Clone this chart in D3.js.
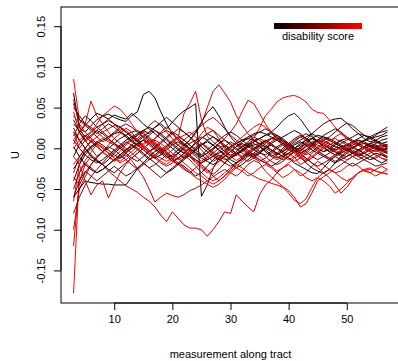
<!DOCTYPE html>
<html>
<head>
<meta charset="utf-8">
<script src="https://cdn.jsdelivr.net/npm/d3@7"></script>
<style>
  body { margin: 0; background: #fff; }
  text { font-family: "Liberation Sans", Arial, sans-serif; }
</style>
</head>
<body>
<div id="chart"></div>
<script>
// measurement index along the tract (x values)
const positions = [3, 4, 5, 6, 7, 8, 9, 10, 11, 12, 13, 14, 15, 16, 17, 18, 19, 20, 21, 22, 23, 24, 25, 26, 27, 28, 29, 30,
  31, 32, 33, 34, 35, 36, 37, 38, 39, 40, 41, 42, 43, 44, 45, 46, 47, 48, 49, 50, 51, 52, 53, 54, 55, 56, 57];

const xTicks = [10, 20, 30, 40, 50];
const yTicks = [-0.15, -0.10, -0.05, 0.00, 0.05, 0.10, 0.15];

// one curve per subject, U along the tract
const s01 = [0.068, 0.025, 0.020, 0.028, 0.035, 0.040, 0.042, 0.038, 0.035, 0.033, 0.040,
  0.045, 0.066, 0.070, 0.062, 0.045, 0.030, 0.018, 0.010, 0.005, 0.000, -0.005,
  -0.010, -0.006, 0.000, 0.004, -0.004, -0.010, -0.008, -0.003, 0.001, 0.004, 0.006,
  0.009, 0.012, 0.013, 0.010, 0.006, 0.001, -0.003, 0.002, 0.006, 0.010, 0.008,
  0.005, 0.002, 0.000, -0.002, 0.001, 0.005, 0.009, 0.012, 0.014, 0.016, 0.020];
const s02 = [-0.178, -0.030, -0.015, -0.005, 0.005, 0.002, -0.006, -0.012, -0.016, -0.010, -0.004,
  0.002, 0.006, 0.010, 0.004, -0.002, -0.010, -0.016, -0.020, -0.012, -0.002, 0.008,
  0.018, 0.026, 0.022, 0.012, 0.000, -0.010, -0.015, -0.010, -0.004, 0.000, 0.003,
  -0.004, -0.010, -0.014, -0.010, -0.006, -0.011, -0.020, -0.016, -0.006, 0.000, 0.004,
  0.000, -0.005, -0.010, -0.014, -0.010, -0.006, 0.000, 0.004, 0.002, -0.002, -0.006];
const s03 = [0.085, 0.035, 0.030, 0.058, 0.040, 0.030, 0.020, 0.012, 0.018, 0.025, 0.020,
  0.010, 0.002, -0.006, -0.012, -0.008, 0.000, 0.006, 0.012, 0.016, 0.020, 0.014,
  0.006, 0.000, -0.008, -0.014, -0.018, -0.012, -0.004, 0.002, 0.006, 0.010, 0.012,
  0.008, 0.004, 0.000, -0.004, -0.008, -0.004, 0.002, 0.008, 0.012, 0.010, 0.006,
  0.002, -0.002, -0.006, -0.002, 0.004, 0.008, 0.006, 0.002, -0.002, 0.000, 0.004];
const s04 = [-0.120, -0.040, -0.020, -0.010, -0.015, -0.020, -0.028, -0.034, -0.040, -0.046, -0.050,
  -0.054, -0.060, -0.065, -0.072, -0.082, -0.090, -0.078, -0.086, -0.094, -0.098, -0.098,
  -0.100, -0.108, -0.100, -0.090, -0.078, -0.080, -0.057, -0.065, -0.072, -0.078, -0.057,
  -0.045, -0.039, -0.030, -0.024, -0.020, -0.026, -0.034, -0.030, -0.022, -0.016, -0.020,
  -0.026, -0.030, -0.028, -0.022, -0.018, -0.022, -0.028, -0.030, -0.026, -0.022, -0.026];
const s05 = [-0.100, -0.050, -0.035, -0.020, -0.010, -0.005, -0.010, -0.015, -0.012, -0.008, -0.015,
  -0.025, -0.035, -0.050, -0.066, -0.060, -0.055, -0.058, -0.060, -0.057, -0.052, -0.049,
  -0.045, -0.040, -0.035, -0.030, -0.026, -0.030, -0.034, -0.028, -0.020, -0.015, -0.018,
  -0.028, -0.035, -0.041, -0.047, -0.052, -0.060, -0.072, -0.068, -0.055, -0.040, -0.035,
  -0.030, -0.025, -0.020, -0.015, -0.010, -0.008, -0.010, -0.014, -0.012, -0.008, -0.010];
const s06 = [-0.065, -0.020, 0.000, 0.010, 0.004, -0.004, -0.010, -0.016, -0.010, -0.004, 0.000,
  0.004, 0.000, -0.006, -0.012, -0.018, -0.022, -0.018, -0.012, -0.008, -0.014, -0.022,
  -0.030, -0.036, -0.040, -0.036, -0.030, -0.024, -0.020, -0.024, -0.030, -0.034, -0.038,
  -0.040, -0.043, -0.045, -0.048, -0.055, -0.064, -0.068, -0.062, -0.048, -0.036, -0.030,
  -0.026, -0.030, -0.036, -0.040, -0.036, -0.030, -0.026, -0.024, -0.028, -0.030, -0.032];
const s07 = [0.040, 0.030, 0.020, 0.012, 0.006, 0.000, -0.006, -0.010, -0.004, 0.004, 0.010,
  0.016, 0.020, 0.014, 0.008, 0.002, -0.004, -0.010, -0.014, -0.010, -0.004, 0.002,
  0.006, 0.002, -0.004, -0.010, -0.014, -0.012, -0.008, -0.002, 0.004, 0.012, 0.025,
  0.040, 0.048, 0.057, 0.062, 0.064, 0.065, 0.062, 0.057, 0.048, 0.044, 0.043,
  0.035, 0.026, 0.018, 0.012, 0.008, 0.004, 0.000, -0.004, -0.002, 0.002, 0.004];
const s08 = [-0.020, -0.010, -0.004, 0.002, 0.008, 0.012, 0.008, 0.004, 0.000, -0.004, 0.000,
  0.006, 0.010, 0.004, -0.002, -0.006, 0.002, 0.010, 0.014, 0.043, 0.055, 0.070,
  0.035, 0.015, 0.008, 0.002, -0.004, -0.008, -0.006, -0.010, -0.006, 0.000, 0.004,
  0.008, 0.012, 0.010, 0.004, -0.002, -0.006, -0.002, 0.004, 0.008, 0.010, 0.006,
  0.002, -0.002, 0.000, 0.004, 0.008, 0.010, 0.006, 0.002, 0.000, 0.002, 0.004];
const s09 = [0.010, 0.020, 0.030, 0.026, 0.020, 0.014, 0.010, 0.006, 0.002, -0.002, 0.002,
  0.006, 0.002, -0.004, -0.010, -0.016, -0.020, -0.014, -0.006, 0.002, 0.010, 0.018,
  0.030, 0.050, 0.070, 0.078, 0.068, 0.057, 0.040, 0.028, 0.018, 0.010, 0.004,
  0.002, -0.002, -0.006, -0.010, -0.014, -0.010, -0.004, 0.002, 0.006, 0.004, 0.000,
  -0.004, -0.008, -0.004, 0.000, 0.004, 0.006, 0.002, -0.002, -0.004, -0.002, 0.000];
const s10 = [-0.030, -0.010, 0.000, 0.008, 0.014, 0.020, 0.024, 0.028, 0.026, 0.022, 0.016,
  0.010, 0.004, -0.002, -0.008, -0.012, -0.016, -0.012, -0.006, 0.000, -0.004, -0.010,
  -0.016, -0.010, -0.002, 0.006, 0.012, 0.020, 0.030, 0.045, 0.059, 0.055, 0.043,
  0.030, 0.020, 0.012, 0.006, 0.000, -0.004, -0.008, -0.004, 0.002, 0.008, 0.012,
  0.010, 0.006, 0.002, -0.002, -0.006, -0.004, 0.000, 0.004, 0.002, -0.002, -0.004];
const s11 = [0.020, 0.010, 0.000, -0.010, -0.016, -0.020, -0.014, -0.006, 0.000, 0.006, 0.012,
  0.016, 0.022, 0.018, 0.026, 0.030, 0.024, 0.032, 0.040, 0.046, 0.050, 0.055,
  -0.059, -0.045, -0.025, -0.012, -0.004, 0.002, 0.006, 0.010, 0.012, 0.010, 0.006,
  0.002, -0.002, -0.006, -0.010, -0.006, 0.000, 0.006, 0.010, 0.012, 0.008, 0.004,
  0.000, -0.004, -0.008, -0.010, -0.006, -0.002, 0.002, 0.006, 0.008, 0.006, 0.004];
const s12 = [-0.060, -0.050, -0.040, -0.042, -0.043, -0.044, -0.044, -0.045, -0.045, -0.045, -0.035,
  -0.025, -0.018, -0.010, -0.004, 0.000, -0.006, -0.012, -0.018, -0.022, -0.028, -0.034,
  -0.030, -0.022, -0.014, -0.008, -0.012, -0.018, -0.024, -0.020, -0.014, -0.008, -0.004,
  0.000, 0.004, 0.000, -0.006, -0.012, -0.018, -0.022, -0.026, -0.030, -0.031, -0.024,
  -0.016, -0.010, -0.006, -0.002, -0.006, -0.010, -0.014, -0.010, -0.006, -0.008, -0.012];
const s13 = [0.030, 0.022, 0.015, 0.008, 0.002, -0.004, 0.000, 0.006, 0.012, 0.016, 0.020,
  0.022, 0.018, 0.012, 0.006, 0.000, -0.006, -0.010, -0.006, 0.000, 0.006, 0.010,
  0.014, 0.010, 0.004, -0.002, -0.008, -0.012, -0.008, -0.002, 0.004, 0.008, 0.012,
  0.016, 0.020, 0.026, 0.034, 0.040, 0.043, 0.036, 0.026, 0.016, 0.008, 0.002,
  -0.004, -0.008, -0.004, 0.002, 0.006, 0.010, 0.008, 0.004, 0.000, -0.002, 0.000];
const s14 = [0.010, 0.000, -0.008, -0.014, -0.018, -0.014, -0.008, -0.002, 0.004, 0.010, 0.014,
  0.018, 0.022, 0.026, 0.022, 0.016, 0.010, 0.004, -0.002, -0.006, -0.010, -0.014,
  -0.018, -0.014, -0.010, -0.006, -0.002, 0.002, 0.006, 0.010, 0.014, 0.018, 0.020,
  0.018, 0.014, 0.010, 0.006, 0.002, 0.000, 0.004, 0.010, 0.018, 0.024, 0.030,
  0.034, 0.036, 0.037, 0.031, 0.024, 0.018, 0.012, 0.008, 0.010, 0.014, 0.016];
const s15 = [-0.040, -0.020, -0.008, 0.000, 0.006, 0.010, 0.014, 0.018, 0.020, 0.016, 0.010,
  0.004, -0.002, -0.008, -0.012, -0.008, -0.002, 0.004, 0.008, 0.004, -0.002, -0.008,
  -0.012, -0.016, -0.020, -0.016, -0.010, -0.004, 0.002, 0.006, 0.002, -0.002, -0.006,
  -0.008, -0.004, 0.002, 0.006, 0.004, -0.002, -0.010, -0.018, -0.024, -0.028, -0.031,
  -0.026, -0.018, -0.010, -0.004, 0.000, 0.004, 0.006, 0.004, 0.000, -0.004, -0.006];
const s16 = [0.055, 0.035, 0.028, 0.036, 0.043, 0.040, 0.036, 0.041, 0.038, 0.036, 0.043,
  0.037, 0.030, 0.024, 0.018, 0.012, 0.006, 0.000, -0.006, -0.012, -0.008, -0.002,
  0.004, 0.010, 0.014, 0.010, 0.004, -0.002, -0.006, -0.002, 0.004, 0.008, 0.012,
  0.016, 0.018, 0.014, 0.008, 0.002, -0.004, 0.000, 0.006, 0.012, 0.016, 0.014,
  0.010, 0.006, 0.002, 0.004, 0.008, 0.012, 0.016, 0.014, 0.010, 0.006, 0.008];
const s17 = [0.005, 0.020, 0.028, 0.022, 0.014, 0.008, 0.012, 0.018, 0.024, 0.020, 0.014,
  0.008, 0.002, -0.004, 0.000, 0.006, 0.012, 0.018, 0.024, 0.020, 0.014, 0.006,
  -0.002, -0.010, -0.016, -0.012, -0.006, 0.000, 0.006, 0.002, -0.004, -0.008, -0.004,
  0.002, 0.008, 0.012, 0.008, 0.004, 0.000, -0.004, -0.008, -0.004, 0.002, 0.006,
  0.010, 0.012, 0.008, 0.004, 0.000, -0.002, 0.002, 0.006, 0.008, 0.006, 0.002];
const s18 = [-0.050, -0.030, -0.018, -0.024, -0.030, -0.026, -0.020, -0.014, -0.008, -0.002, 0.004,
  0.010, 0.016, 0.010, 0.004, -0.002, -0.008, -0.014, -0.020, -0.026, -0.030, -0.024,
  -0.018, -0.012, -0.006, 0.000, 0.004, 0.000, -0.006, -0.012, -0.016, -0.012, -0.006,
  0.000, -0.004, -0.010, -0.014, -0.010, -0.004, 0.002, 0.006, 0.002, -0.004, -0.008,
  -0.012, -0.016, -0.012, -0.006, -0.002, -0.006, -0.010, -0.014, -0.010, -0.006, -0.010];
const s19 = [0.025, 0.010, 0.000, -0.008, -0.014, -0.020, -0.026, -0.030, -0.024, -0.018, -0.012,
  -0.006, 0.000, 0.006, 0.012, 0.018, 0.022, 0.018, 0.012, 0.006, 0.000, -0.006,
  -0.010, -0.006, 0.000, 0.006, 0.010, 0.006, 0.000, -0.006, -0.010, -0.006, 0.000,
  0.006, 0.012, 0.016, 0.012, 0.006, 0.000, -0.006, -0.002, 0.004, 0.010, 0.014,
  0.012, 0.008, 0.004, 0.000, -0.004, -0.008, -0.006, -0.002, 0.002, 0.004, 0.002];
const s20 = [-0.010, -0.020, -0.040, -0.057, -0.045, -0.040, -0.061, -0.045, -0.030, -0.020, -0.012,
  -0.006, 0.000, 0.006, 0.010, 0.006, 0.000, -0.006, -0.012, -0.018, -0.024, -0.030,
  -0.034, -0.040, -0.044, -0.040, -0.034, -0.028, -0.022, -0.016, -0.010, -0.006, -0.010,
  -0.016, -0.022, -0.028, -0.024, -0.018, -0.012, -0.008, -0.012, -0.018, -0.024, -0.030,
  -0.036, -0.045, -0.055, -0.048, -0.038, -0.030, -0.027, -0.026, -0.028, -0.030, -0.031];
const s21 = [0.000, 0.010, 0.016, 0.012, 0.006, 0.000, -0.006, -0.012, -0.018, -0.014, -0.008,
  -0.002, 0.004, 0.010, 0.006, 0.000, -0.006, -0.012, -0.018, -0.024, -0.030, -0.036,
  -0.040, -0.044, -0.048, -0.044, -0.038, -0.030, -0.024, -0.028, -0.034, -0.030, -0.024,
  -0.020, -0.024, -0.030, -0.036, -0.032, -0.026, -0.030, -0.036, -0.040, -0.036, -0.040,
  -0.046, -0.055, -0.050, -0.043, -0.036, -0.030, -0.026, -0.030, -0.034, -0.030, -0.026];
const s22 = [0.015, 0.030, 0.040, 0.034, 0.026, 0.020, 0.014, 0.020, 0.026, 0.030, 0.026,
  0.020, 0.014, 0.008, 0.002, -0.004, -0.010, -0.016, -0.012, -0.006, 0.000, 0.006,
  0.012, 0.018, 0.022, 0.016, 0.010, 0.004, -0.002, 0.002, 0.008, 0.014, 0.010,
  0.004, -0.002, -0.008, -0.004, 0.002, 0.008, 0.014, 0.018, 0.014, 0.008, 0.002,
  -0.004, 0.000, 0.006, 0.010, 0.014, 0.018, 0.016, 0.012, 0.008, 0.004, 0.000];
const s23 = [-0.035, -0.045, -0.030, -0.020, -0.012, -0.004, 0.002, -0.002, -0.008, -0.014, -0.020,
  -0.026, -0.020, -0.014, -0.008, -0.002, 0.004, 0.008, 0.004, -0.002, -0.008, -0.014,
  -0.020, -0.026, -0.032, -0.026, -0.018, -0.010, -0.004, 0.002, 0.006, 0.002, -0.004,
  -0.010, -0.016, -0.020, -0.016, -0.010, -0.004, 0.000, -0.004, -0.010, -0.014, -0.010,
  -0.006, -0.002, 0.002, -0.002, -0.006, -0.010, -0.006, -0.002, 0.002, -0.002, -0.006];
const s24 = [0.045, 0.020, 0.008, 0.014, 0.022, 0.030, 0.036, 0.030, 0.022, 0.014, 0.008,
  0.012, 0.020, 0.028, 0.034, 0.028, 0.020, 0.012, 0.004, -0.004, -0.010, -0.016,
  -0.022, -0.028, -0.034, -0.040, -0.034, -0.026, -0.018, -0.012, -0.006, 0.000, 0.004,
  0.008, 0.004, 0.000, -0.006, -0.012, -0.016, -0.012, -0.006, 0.000, 0.006, 0.010,
  0.006, 0.002, -0.002, -0.006, -0.010, -0.014, -0.010, -0.006, -0.002, -0.006, -0.010];
const s25 = [-0.010, 0.005, 0.015, 0.020, 0.026, 0.030, 0.034, 0.030, 0.026, 0.020, 0.014,
  0.008, 0.014, 0.020, 0.026, 0.032, 0.038, 0.032, 0.026, 0.020, 0.014, 0.008,
  0.002, -0.004, -0.010, -0.014, -0.010, -0.004, 0.002, 0.008, 0.012, 0.016, 0.020,
  0.024, 0.020, 0.016, 0.010, 0.004, -0.002, -0.006, -0.002, 0.004, 0.010, 0.016,
  0.020, 0.024, 0.020, 0.014, 0.010, 0.006, 0.010, 0.014, 0.018, 0.020, 0.022];
const s26 = [0.002, -0.010, -0.020, -0.026, -0.030, -0.026, -0.020, -0.014, -0.008, -0.002, 0.004,
  0.000, -0.006, -0.012, -0.018, -0.024, -0.030, -0.026, -0.020, -0.014, -0.008, -0.002,
  0.004, 0.008, 0.004, -0.002, -0.008, -0.014, -0.018, -0.014, -0.008, -0.002, 0.002,
  -0.002, -0.008, -0.012, -0.008, -0.002, 0.004, 0.008, 0.004, -0.002, -0.006, -0.010,
  -0.014, -0.018, -0.014, -0.010, -0.006, -0.002, -0.006, -0.010, -0.014, -0.018, -0.014];
const s27 = [0.060, 0.028, 0.010, 0.000, -0.010, -0.004, 0.004, 0.012, 0.006, 0.000, -0.006,
  -0.012, -0.018, -0.024, -0.020, -0.014, -0.008, -0.002, 0.004, 0.010, 0.016, 0.022,
  0.028, 0.034, 0.038, 0.032, 0.024, 0.016, 0.010, 0.004, -0.002, -0.008, -0.014,
  -0.018, -0.014, -0.008, -0.002, 0.004, 0.010, 0.014, 0.010, 0.004, -0.002, -0.008,
  -0.012, -0.008, -0.002, 0.004, 0.008, 0.004, 0.000, -0.004, -0.008, -0.012, -0.016];
const s28 = [-0.025, -0.015, -0.005, 0.002, 0.008, 0.004, -0.002, -0.008, -0.012, -0.006, 0.000,
  0.006, 0.010, 0.006, 0.000, -0.006, -0.012, -0.008, -0.002, 0.004, 0.010, 0.020,
  0.032, 0.044, 0.051, 0.040, 0.026, 0.014, 0.006, 0.000, -0.006, -0.010, -0.006,
  0.000, 0.006, 0.010, 0.014, 0.018, 0.022, 0.018, 0.012, 0.006, 0.000, -0.004,
  -0.002, 0.004, 0.010, 0.012, 0.008, 0.004, 0.000, 0.002, 0.006, 0.010, 0.012];
const s29 = [0.035, 0.020, 0.010, 0.016, 0.022, 0.018, 0.012, 0.006, 0.000, -0.006, -0.012,
  -0.016, -0.010, -0.004, 0.002, 0.008, 0.014, 0.020, 0.016, 0.010, 0.004, -0.002,
  -0.008, -0.002, 0.004, 0.010, 0.016, 0.020, 0.016, 0.010, 0.004, 0.000, 0.004,
  0.010, 0.006, 0.000, -0.004, 0.000, 0.006, 0.010, 0.014, 0.018, 0.014, 0.010,
  0.014, 0.020, 0.026, 0.031, 0.028, 0.022, 0.016, 0.012, 0.016, 0.022, 0.026];
const s30 = [-0.080, -0.060, -0.045, -0.035, -0.026, -0.018, -0.010, -0.004, 0.002, 0.008, 0.004,
  -0.002, -0.008, -0.014, -0.010, -0.004, 0.002, 0.008, 0.014, 0.010, 0.004, -0.002,
  -0.008, -0.014, -0.010, -0.004, 0.002, 0.008, 0.004, -0.002, -0.008, -0.012, -0.016,
  -0.012, -0.006, 0.000, 0.004, 0.000, -0.006, -0.012, -0.016, -0.012, -0.006, 0.000,
  0.004, 0.008, 0.004, 0.000, -0.004, -0.008, -0.004, 0.000, 0.004, 0.000, -0.004];
const s31 = [0.050, 0.040, 0.030, 0.024, 0.018, 0.024, 0.030, 0.026, 0.020, 0.014, 0.008,
  0.004, 0.010, 0.016, 0.022, 0.018, 0.012, 0.006, 0.000, -0.006, 0.000, 0.006,
  0.012, 0.018, 0.014, 0.008, 0.002, -0.004, -0.008, -0.004, 0.002, 0.006, 0.002,
  -0.004, -0.010, -0.006, 0.000, 0.006, 0.012, 0.016, 0.012, 0.006, 0.000, -0.004,
  0.000, 0.006, 0.010, 0.006, 0.002, -0.002, 0.002, 0.006, 0.004, 0.000, -0.002];
const s32 = [-0.060, -0.040, -0.028, -0.034, -0.040, -0.034, -0.028, -0.022, -0.028, -0.034, -0.030,
  -0.024, -0.018, -0.024, -0.030, -0.036, -0.030, -0.024, -0.018, -0.012, -0.006, 0.000,
  0.006, 0.000, -0.006, -0.012, -0.018, -0.022, -0.018, -0.012, -0.006, -0.010, -0.014,
  -0.018, -0.022, -0.018, -0.012, -0.006, -0.002, -0.006, -0.012, -0.018, -0.022, -0.018,
  -0.014, -0.010, -0.014, -0.018, -0.022, -0.018, -0.014, -0.018, -0.022, -0.020, -0.018];
const s33 = [0.020, 0.000, 0.010, 0.020, 0.030, 0.040, 0.046, 0.052, 0.048, 0.040, 0.030,
  0.020, 0.012, 0.006, 0.012, 0.020, 0.026, 0.020, 0.010, 0.000, -0.010, -0.018,
  -0.024, -0.030, -0.024, -0.016, -0.008, 0.000, 0.008, 0.014, 0.020, 0.026, 0.030,
  0.026, 0.020, 0.014, 0.008, 0.002, -0.004, -0.010, -0.014, -0.010, -0.004, 0.002,
  0.008, 0.014, 0.018, 0.014, 0.008, 0.004, 0.000, -0.004, -0.008, -0.012, -0.014];

const curves = [s01, s02, s03, s04, s05, s06, s07, s08, s09, s10, s11, s12, s13, s14, s15, s16, s17,
  s18, s19, s20, s21, s22, s23, s24, s25, s26, s27, s28, s29, s30, s31, s32, s33];
// disability score per subject (0 = black, 1 = red)
const scores = [0.00, 1.00, 0.95, 0.85, 0.80, 0.95, 1.00, 0.95, 0.90, 0.85, 0.10, 0.05, 0.20, 0.15, 0.10, 0.00, 0.70,
  0.60, 0.30, 0.90, 1.00, 0.40, 0.50, 0.75, 0.20, 0.00, 0.65, 0.05, 0.25, 0.55, 0.35, 0.45, 0.98];

const width = 398;
const height = 361;
const plot = {left: 61, right: 400, top: 7, bottom: 303};

const svg = d3.select('#chart')
  .append('svg')
    .attr('width', width)
    .attr('height', height);

const x = d3.scaleLinear()
  .domain([0.84, 59.16])
  .range([plot.left, plot.right]);

const y = d3.scaleLinear()
  .domain([-0.190, 0.1736])
  .range([plot.bottom, plot.top]);

const color = d3.scaleLinear()
  .domain([0, 1])
  .range(['#000000', '#ff0000'])
  .interpolate(d3.interpolateRgb);

svg.append('clipPath')
  .attr('id', 'clip')
  .append('rect')
    .attr('x', plot.left)
    .attr('y', plot.top)
    .attr('width', plot.right - plot.left)
    .attr('height', plot.bottom - plot.top);

const line = d3.line()
  .x((d, i) => x(positions[i]))
  .y(d => y(d));

svg.append('g')
  .attr('clip-path', 'url(#clip)')
  .selectAll('path')
  .data(curves)
  .enter().append('path')
    .attr('d', line)
    .attr('fill', 'none')
    .attr('stroke', (d, i) => color(scores[i]))
    .attr('stroke-width', 1);

// box
svg.append('rect')
  .attr('x', plot.left)
  .attr('y', plot.top)
  .attr('width', plot.right - plot.left)
  .attr('height', plot.bottom - plot.top)
  .attr('fill', 'none')
  .attr('stroke', '#000')
  .attr('stroke-width', 1);

// x axis
const xAxis = d3.axisBottom(x)
  .tickValues(xTicks)
  .tickSize(7)
  .tickPadding(5)
  .tickFormat(d3.format('d'));

svg.append('g')
  .attr('class', 'x axis')
  .attr('transform', `translate(0, ${plot.bottom})`)
  .call(xAxis)
  .call(g => g.select('.domain').attr('d', `M${x(10)},0H${x(50)}`));

// y axis
const yAxis = d3.axisLeft(y)
  .tickValues(yTicks)
  .tickSize(7)
  .tickFormat(d3.format('.2f'));

svg.append('g')
  .attr('class', 'y axis')
  .attr('transform', `translate(${plot.left}, 0)`)
  .call(yAxis)
  .call(g => g.select('.domain').attr('d', `M0,${y(-0.15)}V${y(0.15)}`));

svg.selectAll('.axis text')
  .attr('font-family', '"Liberation Sans", Arial, sans-serif')
  .attr('font-size', 11)
  .attr('fill', '#000');

svg.selectAll('.y.axis text')
  .attr('x', null)
  .attr('dy', null)
  .attr('text-anchor', 'middle')
  .attr('transform', 'translate(-16, 0) rotate(-90)')
  .text(d => d3.format('.2f')(d).replace('−', '-'));

svg.selectAll('.x.axis text')
  .attr('dy', '0.71em');

// axis titles
svg.append('text')
  .attr('x', (plot.left + plot.right) / 2)
  .attr('y', 358)
  .attr('text-anchor', 'middle')
  .attr('font-size', 11)
  .text('measurement along tract');

svg.append('text')
  .attr('transform', `translate(19, ${(plot.top + plot.bottom) / 2}) rotate(-90)`)
  .attr('text-anchor', 'middle')
  .attr('font-size', 11)
  .text('U');

// legend colour bar
const grad = svg.append('defs')
  .append('linearGradient')
    .attr('id', 'scoreGrad');

grad.selectAll('stop')
  .data([0, 0.25, 0.5, 0.75, 1])
  .enter().append('stop')
    .attr('offset', d => d * 100 + '%')
    .attr('stop-color', d => color(d));

svg.append('rect')
  .attr('x', 274)
  .attr('y', 23)
  .attr('width', 88)
  .attr('height', 6)
  .attr('fill', 'url(#scoreGrad)');

svg.append('text')
  .attr('x', 318)
  .attr('y', 40)
  .attr('text-anchor', 'middle')
  .attr('font-size', 11)
  .text('disability score');
</script>
</body>
</html>
